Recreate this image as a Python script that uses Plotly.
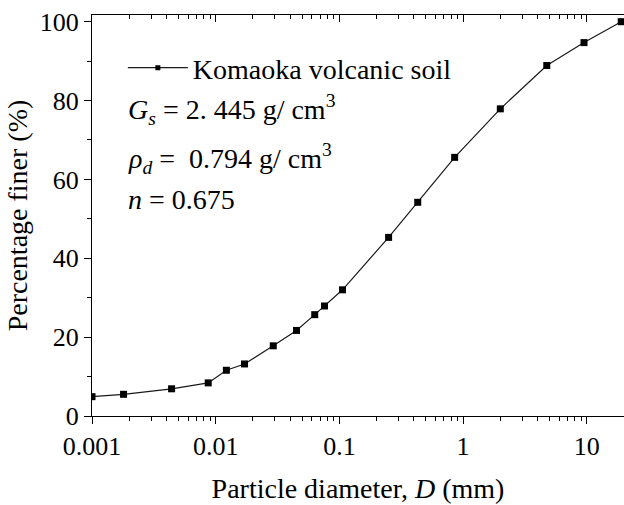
import math
import plotly.graph_objects as go

# ---- data ----
diameter_mm = [0.001, 0.0018, 0.0044, 0.0087, 0.0122, 0.0171, 0.0292, 0.045,
               0.0632, 0.0758, 0.106, 0.25, 0.43, 0.855, 2.0, 4.75, 9.5, 19.0]
percent_finer = [4.9, 5.5, 6.9, 8.4, 11.6, 13.2, 17.8, 21.7,
                 25.7, 27.9, 32.0, 45.3, 54.2, 65.6, 77.9, 88.9, 94.7, 100.0]
series_name = "Komaoka volcanic soil"
info_lines = [
    "<i>G</i><sub><i>s</i></sub> = 2. 445 g/ cm<sup>3</sup>",
    "<i>ρ</i><sub><i>d</i></sub> = &nbsp;0.794 g/ cm<sup>3</sup>",
    "<i>n</i> = 0.675",
]
x_title = "Particle diameter, <i>D</i> (mm)"
y_title = "Percentage finer (%)"

FONT = "Liberation Serif, Times New Roman, serif"
x_range = [-3, math.log10(20)]
y_range = [0, 101.7]

fig = go.Figure()

# main series
fig.add_trace(go.Scatter(
    x=diameter_mm, y=percent_finer, mode="lines+markers",
    line=dict(color="#1a1a1a", width=1.2),
    marker=dict(symbol="square", size=7, color="black"),
    showlegend=False, hoverinfo="skip"))

# legend-only entry (smaller symbol like the reference)
fig.add_trace(go.Scatter(
    x=[None], y=[None], mode="lines+markers", name=series_name,
    line=dict(color="#1a1a1a", width=1.2),
    marker=dict(symbol="square", size=5, color="black"),
    showlegend=True))

# invisible trace for the top (mirror) axis
fig.add_trace(go.Scatter(
    x=diameter_mm, y=percent_finer, xaxis="x2", mode="lines",
    opacity=0, showlegend=False, hoverinfo="skip"))

axis_common = dict(showgrid=False, zeroline=False, showline=True,
                   linecolor="black", linewidth=1, tickcolor="black",
                   tickwidth=1)

fig.update_layout(
    width=624, height=505,
    margin=dict(l=92, r=0, t=15, b=89),
    paper_bgcolor="white", plot_bgcolor="white",
    font=dict(family=FONT, color="black"),
    xaxis=dict(type="log", range=x_range, ticks="outside", ticklen=7,
               tickmode="linear", tick0=0, dtick=1,
               minor=dict(ticks="outside", ticklen=4, dtick="D1",
                          tickcolor="black", showgrid=False),
               tickfont=dict(size=26, family=FONT),
               title=dict(text=x_title, font=dict(size=28, family=FONT),
                          standoff=18),
               **axis_common),
    xaxis2=dict(type="log", range=x_range, overlaying="x", side="top",
                ticks="inside", ticklen=7, tickmode="linear", tick0=0, dtick=1,
                minor=dict(ticks="inside", ticklen=4, dtick="D1",
                           tickcolor="black", showgrid=False),
                showticklabels=False, **axis_common),
    yaxis=dict(range=y_range, ticks="outside", ticklen=7, dtick=20, tick0=0,
               minor=dict(ticks="outside", ticklen=4, dtick=10,
                          tickcolor="black", showgrid=False),
               tickfont=dict(size=26, family=FONT),
               title=dict(text=y_title, font=dict(size=28, family=FONT),
                          standoff=3),
               **axis_common),
    legend=dict(x=0.058, y=0.868, xanchor="left", yanchor="middle",
                bgcolor="rgba(0,0,0,0)", itemwidth=60,
                font=dict(size=28, family=FONT)),
)

ys = [0.764, 0.641, 0.541]
for txt, yy in zip(info_lines, ys):
    fig.add_annotation(text=txt, x=0.0634, y=yy, xref="paper", yref="paper",
                       xanchor="left", yanchor="middle", showarrow=False,
                       font=dict(size=28, family=FONT, color="black"))

fig.write_html("out.html")
